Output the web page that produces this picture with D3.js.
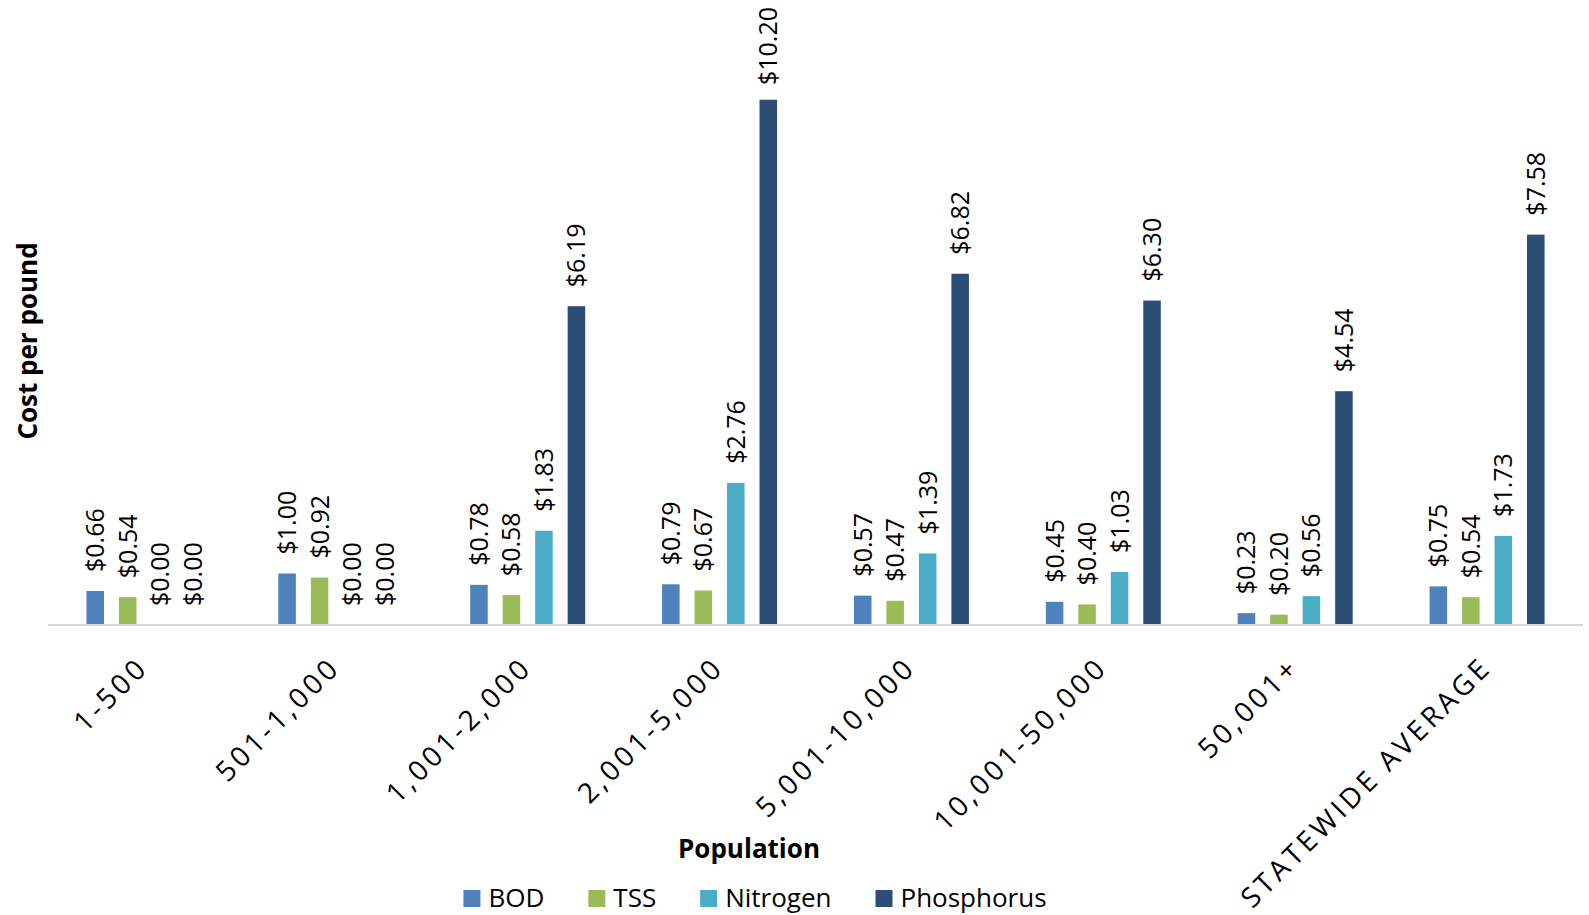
<!DOCTYPE html>
<html>
<head>
<meta charset="utf-8">
<script src="https://cdn.jsdelivr.net/npm/d3@7"></script>
<style>
    body { margin: 0; background: #fff; }
    text { font-family: "Open Sans", "Noto Sans", sans-serif; fill: #000; }
</style>
</head>
<body>
<div id="canvas"></div>
<script>

// data
const categories = ["1-500", "501-1,000", "1,001-2,000", "2,001-5,000", "5,001-10,000",
    "10,001-50,000", "50,001+", "STATEWIDE AVERAGE"];
const series = ["BOD", "TSS", "Nitrogen", "Phosphorus"];
const colors = ["#4F81BD", "#9BBB59", "#4BACC6", "#2C4D75"];

const bod = [0.66, 1.00, 0.78, 0.79, 0.57, 0.45, 0.23, 0.75];
const tss = [0.54, 0.92, 0.58, 0.67, 0.47, 0.40, 0.20, 0.54];
const nitrogen = [0.00, 0.00, 1.83, 2.76, 1.39, 1.03, 0.56, 1.73];
const phosphorus = [0.00, 0.00, 6.19, 10.20, 6.82, 6.30, 4.54, 7.58];

const values = [bod, tss, nitrogen, phosphorus];

const rows = [];
categories.forEach((c, i) => {
    series.forEach((s, j) => {
        rows.push({ category: c, series: s, value: values[j][i] });
    });
});

// dimensions
const width = 1589;
const height = 915;
const margin = { top: 7, right: 6, bottom: 290, left: 48 };

const svg = d3.select("#canvas")
    .append("svg")
    .attr("width", width)
    .attr("height", height);

const x0 = d3.scaleBand()
    .domain(categories)
    .range([margin.left, width - margin.right]);

const x1 = d3.scaleBand()
    .domain(series)
    .range([-57.5, 57.5])
    .paddingInner(0.46);

const y = d3.scaleLinear()
    .domain([0, 12])
    .range([height - margin.bottom, margin.top]);

const color = d3.scaleOrdinal().domain(series).range(colors);

const cx = d => x0(d.category) + x0.bandwidth() / 2;

// bars
svg.append("g")
    .selectAll("rect")
    .data(rows)
    .join("rect")
    .attr("x", d => cx(d) + x1(d.series))
    .attr("y", d => y(d.value))
    .attr("width", x1.bandwidth())
    .attr("height", d => y(0) - y(d.value))
    .style("fill", d => color(d.series));

// axis line
svg.append("line")
    .attr("x1", x0.range()[0])
    .attr("x2", x0.range()[1])
    .attr("y1", y(0))
    .attr("y2", y(0))
    .style("stroke", "#d9d9d9")
    .style("stroke-width", 2);

// value labels, kept inside the plot at the top
svg.append("g")
    .selectAll("text")
    .data(rows)
    .join("text")
    .attr("dy", "0.36em")
    .style("font-size", "25px")
    .text(d => "$" + d.value.toFixed(2))
    .attr("transform", function (d) {
        const len = this.getComputedTextLength();
        const start = Math.max(y(d.value) - 19, margin.top + len);
        return `translate(${cx(d) + x1(d.series) + x1.bandwidth() / 2}, ${start}) rotate(-90)`;
    });

// category labels
svg.append("g")
    .selectAll("text")
    .data(categories)
    .join("text")
    .attr("transform", d => `translate(${x0(d) + x0.bandwidth() / 2 + 6}, ${y(0) + 44}) rotate(-45)`)
    .attr("text-anchor", "end")
    .style("font-size", "28px")
    .style("letter-spacing", "3.7px")
    .text(d => d);

// axis titles
svg.append("text")
    .attr("x", 749)
    .attr("y", 858)
    .attr("text-anchor", "middle")
    .style("font-size", "26px")
    .style("font-weight", "bold")
    .text("Population");

svg.append("text")
    .attr("transform", "translate(28, 341) rotate(-90)")
    .attr("text-anchor", "middle")
    .attr("dy", "0.36em")
    .style("font-size", "26px")
    .style("font-weight", "bold")
    .text("Cost per pound");

// legend
const legend = svg.append("g");
let lx = 0;
series.forEach((s, i) => {
    const item = legend.append("g").attr("transform", `translate(${lx}, 0)`);
    item.append("rect")
        .attr("x", 0)
        .attr("y", -17)
        .attr("width", 17)
        .attr("height", 17)
        .style("fill", colors[i]);
    const t = item.append("text")
        .attr("x", 25)
        .attr("y", 0)
        .style("font-size", "26px")
        .text(s);
    lx += 25 + t.node().getComputedTextLength() + 44;
});
lx -= 44;
legend.attr("transform", `translate(${755 - lx / 2}, 907)`);

</script>
</body>
</html>
